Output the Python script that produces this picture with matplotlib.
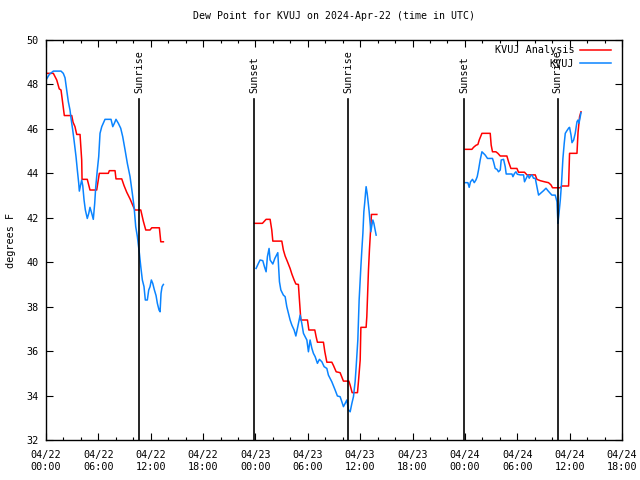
import numpy as np
import pandas as pd
import matplotlib
matplotlib.use('Agg')
import matplotlib.pyplot as plt
import matplotlib.dates as mdates

# hours after 2024-04-22 00:00 UTC, dew point in deg F
red1_h = [0.0, 0.84, 1.23, 1.52, 1.72, 1.87, 2.10, 2.95, 3.10, 3.32, 3.52, 3.90, 4.09, 4.13,
          4.73, 5.04, 5.81, 6.11, 7.14, 7.26, 7.91, 8.02, 8.68, 8.94, 9.25, 9.63, 10.01,
          10.20, 10.86, 11.15, 11.43, 11.92, 12.12, 12.99, 13.15, 13.45]
red1_v = [48.5, 48.5, 48.2, 47.8, 47.75, 47.3, 46.6, 46.6, 46.3, 46.1, 45.75, 45.75, 44.6, 43.73,
          43.73, 43.25, 43.25, 44.0, 44.0, 44.12, 44.12, 43.75, 43.75, 43.45, 43.15, 42.85, 42.5,
          42.35, 42.35, 41.85, 41.45, 41.45, 41.55, 41.55, 40.92, 40.92]
red2_h = [23.88, 24.80, 25.22, 25.68, 25.87, 25.99, 27.02, 27.20, 27.40, 27.66, 27.97, 28.17,
          28.43, 28.63, 28.92, 29.04, 29.20, 29.96, 30.12, 30.80, 30.95, 31.10, 31.79, 31.95,
          32.18, 32.75, 32.94, 33.25, 33.70, 34.08, 34.70, 34.85, 35.08, 35.69, 35.80, 36.00,
          36.08, 36.68, 36.76, 36.95, 37.06, 37.18, 37.29, 37.91]
red2_v = [41.75, 41.75, 41.93, 41.93, 41.45, 40.95, 40.95, 40.55, 40.28, 40.03, 39.72, 39.47,
          39.2, 39.02, 39.0, 38.3, 37.4, 37.4, 36.95, 36.95, 36.65, 36.4, 36.4, 35.97,
          35.5, 35.5, 35.35, 35.07, 35.03, 34.65, 34.65, 34.47, 34.13, 34.13, 34.62, 35.6,
          37.07, 37.07, 37.55, 39.65, 40.55, 41.37, 42.15, 42.15]
red3_h = [48.03, 48.80, 48.99, 49.26, 49.49, 49.64, 49.95, 50.90, 51.01, 51.16, 51.55, 51.78,
          52.05, 52.81, 53.00, 53.27, 53.96, 54.14, 54.83, 55.11, 56.06, 56.25, 56.63, 57.12,
          57.58, 57.86, 58.04, 58.92, 59.12, 59.88, 59.99, 60.84, 60.96, 61.14, 61.30]
red3_v = [45.08, 45.08, 45.17, 45.26, 45.3, 45.5, 45.8, 45.8, 45.27, 44.97, 44.97, 44.9,
          44.78, 44.78, 44.52, 44.22, 44.22, 44.05, 44.05, 43.93, 43.93, 43.73, 43.67, 43.62,
          43.58, 43.48, 43.35, 43.35, 43.43, 43.43, 44.9, 44.9, 45.83, 46.55, 46.77]

blue1_h = [0.0, 0.38, 0.84, 1.72, 1.98, 2.18, 2.37, 2.56, 2.75, 2.87, 3.06, 3.21, 3.44, 3.59,
           3.75, 3.82, 3.98, 4.09, 4.21, 4.36, 4.51, 4.73, 4.90, 5.04, 5.24, 5.42, 5.58, 5.70,
           5.88, 6.04, 6.19, 6.39, 6.76, 7.45, 7.65, 7.83, 8.02, 8.29, 8.56, 8.79, 9.06, 9.32,
           9.63, 9.89, 10.09, 10.28, 10.47, 10.70, 10.86, 11.04, 11.23, 11.38, 11.61, 11.77,
           11.92, 12.07, 12.23, 12.42, 12.61, 12.76, 12.95, 13.07, 13.18, 13.30, 13.45]
blue1_v = [48.2, 48.45, 48.6, 48.6, 48.5, 48.3, 47.75, 47.22, 46.85, 46.47, 45.95, 45.5, 44.75, 44.15,
           43.55, 43.2, 43.5, 43.7, 43.45, 42.8, 42.35, 41.97, 42.2, 42.47, 42.2, 41.93, 42.65, 43.4,
           44.15, 44.75, 45.8, 46.1, 46.43, 46.43, 46.1, 46.25, 46.43, 46.25, 46.03, 45.65, 45.05, 44.45,
           43.85, 43.1, 42.5, 41.6, 41.15, 40.4, 39.8, 39.2, 38.9, 38.3, 38.3, 38.75,
           38.9, 39.2, 39.05, 38.75, 38.5, 38.15, 37.85, 37.77, 38.6, 38.9, 39.0]
blue2_h = [24.07, 24.34, 24.53, 24.84, 25.03, 25.22, 25.37, 25.56, 25.68, 25.99, 26.22, 26.56,
           26.75, 26.91, 27.20, 27.40, 27.59, 27.78, 27.97, 28.17, 28.43, 28.63, 28.85, 29.12,
           29.31, 29.50, 29.69, 29.89, 30.07, 30.26, 30.46, 30.64, 30.84, 31.10, 31.33, 31.61,
           31.87, 32.18, 32.36, 32.75, 33.13, 33.39, 33.70, 33.90, 34.08, 34.28, 34.47, 34.66,
           34.85, 35.05, 35.23, 35.42, 35.54, 35.73, 35.88, 36.08, 36.19, 36.31, 36.42, 36.53,
           36.61, 36.68, 36.80, 36.91, 37.03, 37.14, 37.22, 37.34, 37.45, 37.57, 37.68, 37.83]
blue2_v = [39.72, 39.95, 40.1, 40.07, 39.8, 39.57, 40.25, 40.62, 40.1, 39.92, 40.17, 40.43,
           39.12, 38.75, 38.52, 38.45, 38.0, 37.7, 37.4, 37.17, 36.95, 36.68, 37.1, 37.62,
           37.25, 36.8, 36.65, 36.5, 35.97, 36.5, 36.13, 35.9, 35.75, 35.45, 35.63, 35.52,
           35.3, 35.22, 34.92, 34.62, 34.25, 33.98, 33.95, 33.72, 33.5, 33.65, 33.8, 33.35,
           33.27, 33.65, 33.95, 34.62, 35.3, 36.5, 38.3, 39.8, 40.55, 41.3, 42.27, 42.72,
           43.1, 43.4, 43.1, 42.72, 42.27, 41.75, 41.37, 41.67, 41.9, 41.75, 41.52, 41.22]
blue3_h = [48.03, 48.34, 48.49, 48.64, 48.87, 49.07, 49.26, 49.41, 49.56, 49.75, 49.95, 50.13,
           50.33, 50.59, 51.16, 51.28, 51.47, 51.67, 51.85, 52.05, 52.16, 52.43, 52.62, 52.73,
           53.39, 53.50, 53.69, 53.85, 54.00, 54.34, 54.72, 54.83, 55.03, 55.22, 55.37, 55.52,
           55.68, 55.86, 56.06, 56.25, 56.44, 56.75, 57.01, 57.29, 57.51, 57.78, 57.97, 58.35,
           58.55, 58.66, 58.78, 58.93, 59.07, 59.23, 59.38, 59.50, 59.69, 59.88, 59.99, 60.16,
           60.27, 60.46, 60.64, 60.84, 60.96, 61.07, 61.18, 61.30]
blue3_v = [43.58, 43.58, 43.37, 43.62, 43.73, 43.58, 43.7, 43.85, 44.15, 44.6, 44.97, 44.9,
           44.82, 44.67, 44.67, 44.52, 44.22, 44.18, 44.07, 44.15, 44.6, 44.63, 44.3, 43.97,
           43.97, 43.85, 44.0, 44.07, 43.96, 43.93, 43.93, 43.62, 43.78, 43.93, 43.78, 43.88,
           43.93, 43.78, 43.78, 43.4, 43.02, 43.13, 43.22, 43.33, 43.22, 43.1, 43.02, 43.02,
           42.72, 41.75, 42.2, 42.8, 43.55, 44.67, 45.35, 45.8, 45.92, 46.03, 46.07, 45.72,
           45.38, 45.5, 45.8, 46.32, 46.4, 46.25, 46.47, 46.73]

sun_hours = [10.70, 23.88, 34.66, 47.95, 58.61]
sun_labels = ['Sunrise', 'Sunset', 'Sunrise', 'Sunset', 'Sunrise']

start = pd.Timestamp('2024-04-22 00:00')


def to_time(hours):
    return start + pd.to_timedelta(np.array(hours), unit='h')


plt.rcParams['font.family'] = 'DejaVu Sans Mono'
plt.rcParams['font.size'] = 7.3

fig = plt.figure(figsize=(6.4, 4.8), dpi=100)
ax = fig.add_axes([46 / 640, 1 - 440 / 480, 576 / 640, 400 / 480])

red = '#ff0000'
blue = '#0a84ff'
for i, (h, v) in enumerate([(red1_h, red1_v), (red2_h, red2_v), (red3_h, red3_v)]):
    ax.plot(to_time(h), v, color=red, lw=1.1, label='KVUJ Analysis' if i == 0 else None)
for i, (h, v) in enumerate([(blue1_h, blue1_v), (blue2_h, blue2_v), (blue3_h, blue3_v)]):
    ax.plot(to_time(h), v, color=blue, lw=1.1, label='KVUJ' if i == 0 else None)

for h, lab in zip(sun_hours, sun_labels):
    t = to_time([h])[0]
    ax.axvline(t, ymin=0, ymax=(47.35 - 32) / 18, color='black', lw=1.2)
    ax.text(t, 47.62, lab, rotation=90, ha='center', va='bottom')

ax.set_xlim(start, start + pd.Timedelta(hours=66))
ax.set_ylim(32, 50)
ax.set_yticks(np.arange(32, 51, 2))
ax.xaxis.set_major_locator(mdates.HourLocator(byhour=[0, 6, 12, 18]))
ax.xaxis.set_minor_locator(mdates.HourLocator(interval=2))
ax.xaxis.set_major_formatter(mdates.DateFormatter('%m/%d\n%H:%M'))
ax.tick_params(which='both', direction='in', top=True, right=True)
ax.tick_params(which='major', length=5, width=0.8, pad=5)
ax.tick_params(which='minor', length=2.5, width=0.8)
ax.tick_params(axis='x', pad=7)
for lbl in ax.get_xticklabels():
    lbl.set_linespacing(1.3)
for s in ax.spines.values():
    s.set_linewidth(1.0)

ax.set_ylabel('degrees F', labelpad=8)
ax.set_title('Dew Point for KVUJ on 2024-Apr-22 (time in UTC)', fontsize=7.1, pad=15)

ax.legend(loc='upper right', bbox_to_anchor=(0.993, 1.005), frameon=False, markerfirst=False,
          handlelength=3.0, handletextpad=0.6, labelspacing=0.35, borderpad=0.2)

fig.savefig('out.png', dpi=100)
